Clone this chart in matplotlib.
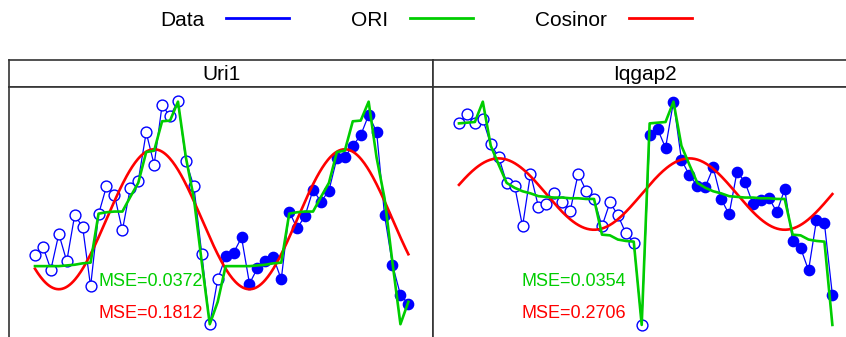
"""Two-panel rhythm plot: expression, ORI fit and cosinor fit per gene."""

from __future__ import annotations

import matplotlib

matplotlib.use("Agg")

import matplotlib.pyplot as plt
import numpy as np
from matplotlib.axes import Axes
from matplotlib.figure import Figure
from matplotlib.lines import Line2D

# sampling times (h): two 24 h cycles, hourly
HOURS = np.arange(48)
PERIOD = 24.0

GENES = ["Uri1", "Iqgap2"]

URI1_DATA = [
    -0.50, -0.38, -0.71, -0.20, -0.59, 0.07, -0.10, -0.95, 0.08, 0.48, 0.36, -0.15,
    0.46, 0.56, 1.25, 0.79, 1.64, 1.48, 1.70, 0.84, 0.48, -0.49, -1.49, -0.85,
    -0.52, -0.47, -0.25, -0.91, -0.69, -0.59, -0.53, -0.85, 0.12, -0.12, 0.06, 0.43,
    0.26, 0.42, 0.88, 0.90, 1.06, 1.21, 1.50, 1.26, 0.07, -0.64, -1.07, -1.20,
]
# ORI fitted profile over one cycle (repeated for both cycles)
URI1_ORI = [
    -0.66, -0.66, -0.66, -0.66, -0.65, -0.64, -0.62, -0.61, 0.09, 0.11, 0.12, 0.12,
    0.33, 0.53, 0.97, 0.99, 1.41, 1.42, 1.69, 0.89, 0.31, -0.61, -1.49, -1.17,
]
URI1_COSINOR = (0.01, 1.00, 15.0)  # mesor, amplitude, acrophase (h)
URI1_MSE = ("0.0372", "0.1812")  # ORI, cosinor

IQGAP2_DATA = [
    1.38, 1.51, 1.38, 1.44, 1.08, 0.90, 0.53, 0.49, -0.09, 0.66, 0.19, 0.23,
    0.38, 0.26, 0.13, 0.66, 0.42, 0.30, -0.09, 0.25, 0.07, -0.19, -0.33, -1.50,
    1.21, 1.30, 1.03, 1.69, 0.86, 0.64, 0.49, 0.47, 0.75, 0.30, 0.08, 0.69,
    0.54, 0.23, 0.29, 0.32, 0.11, 0.44, -0.30, -0.40, -0.72, 0.00, -0.05, -1.07,
]
IQGAP2_ORI = [
    1.38, 1.39, 1.40, 1.69, 1.06, 0.79, 0.53, 0.46, 0.41, 0.38, 0.34, 0.33,
    0.32, 0.32, 0.31, 0.31, 0.30, 0.30, -0.21, -0.22, -0.28, -0.30, -0.31, -1.50,
]
IQGAP2_COSINOR = (0.37, 0.51, 5.0)
IQGAP2_MSE = ("0.0354", "0.2706")

BLUE = "#0000FF"
GREEN = "#00CD00"
RED = "#FF0000"
FRAME = "#333333"

FIG_W, FIG_H = 846, 337

plt.rcParams["font.family"] = ["Liberation Sans", "DejaVu Sans"]


def px_rect(x0: float, y0: float, x1: float, y1: float) -> list[float]:
    """Convert a pixel box (origin top-left) into figure fractions."""
    return [x0 / FIG_W, 1 - y1 / FIG_H, (x1 - x0) / FIG_W, (y1 - y0) / FIG_H]


def style_frame(ax: Axes) -> None:
    ax.set_xticks([])
    ax.set_yticks([])
    for spine in ax.spines.values():
        spine.set_color(FRAME)
        spine.set_linewidth(1.2)


def draw_panel(
    fig: Figure,
    x0: float,
    x1: float,
    name: str,
    data: list[float],
    ori: list[float],
    cosinor: tuple[float, float, float],
    mse: tuple[str, str],
) -> None:
    """Draw one gene: strip header plus data, ORI and cosinor curves."""
    head = fig.add_axes(px_rect(x0, 60, x1, 87))
    head.text(0.5, 0.45, name, ha="center", va="center", fontsize=15,
              transform=head.transAxes)
    style_frame(head)

    ax = fig.add_axes(px_rect(x0, 87, x1, 355))
    values = np.asarray(data)
    first = HOURS < PERIOD

    ax.plot(HOURS, values, color=BLUE, lw=0.9, zorder=2)
    ax.plot(HOURS[first], values[first], "o", ms=7.8, mfc="white", mec=BLUE,
            mew=1.0, zorder=3)
    ax.plot(HOURS[~first], values[~first], "o", ms=7.4, mfc=BLUE, mec=BLUE,
            mew=1.0, zorder=3)

    mesor, amp, phase = cosinor
    t = np.linspace(HOURS[0], HOURS[-1], 400)
    ax.plot(t, mesor + amp * np.cos(2 * np.pi * (t - phase) / PERIOD),
            color=RED, lw=1.9, zorder=4)
    ax.plot(HOURS, np.tile(ori, 2), color=GREEN, lw=1.9, zorder=5)

    ax.text(21.1, -0.88, f"MSE={mse[0]}", color=GREEN, ha="right",
            va="center", fontsize=13, zorder=6)
    ax.text(21.1, -1.33, f"MSE={mse[1]}", color=RED, ha="right",
            va="center", fontsize=13, zorder=6)

    ax.set_xlim(-3.27, 50.1)
    ax.set_ylim(-1.93, 1.9)
    style_frame(ax)


fig = plt.figure(figsize=(FIG_W / 100, FIG_H / 100), dpi=100)

draw_panel(fig, 9, 433, GENES[0], URI1_DATA, URI1_ORI, URI1_COSINOR, URI1_MSE)
draw_panel(fig, 433, 857, GENES[1], IQGAP2_DATA, IQGAP2_ORI, IQGAP2_COSINOR,
           IQGAP2_MSE)

handles = [Line2D([], [], color=c, lw=2.0) for c in (BLUE, GREEN, RED)]
fig.legend(
    handles,
    ["Data", "ORI", "Cosinor"],
    loc="center",
    bbox_to_anchor=(426 / FIG_W, 1 - 20 / FIG_H),
    ncol=3,
    markerfirst=False,
    frameon=False,
    fontsize=15,
    handlelength=3.0,
    handletextpad=1.05,
    columnspacing=3.0,
)

fig.savefig("out.png", dpi=100)
